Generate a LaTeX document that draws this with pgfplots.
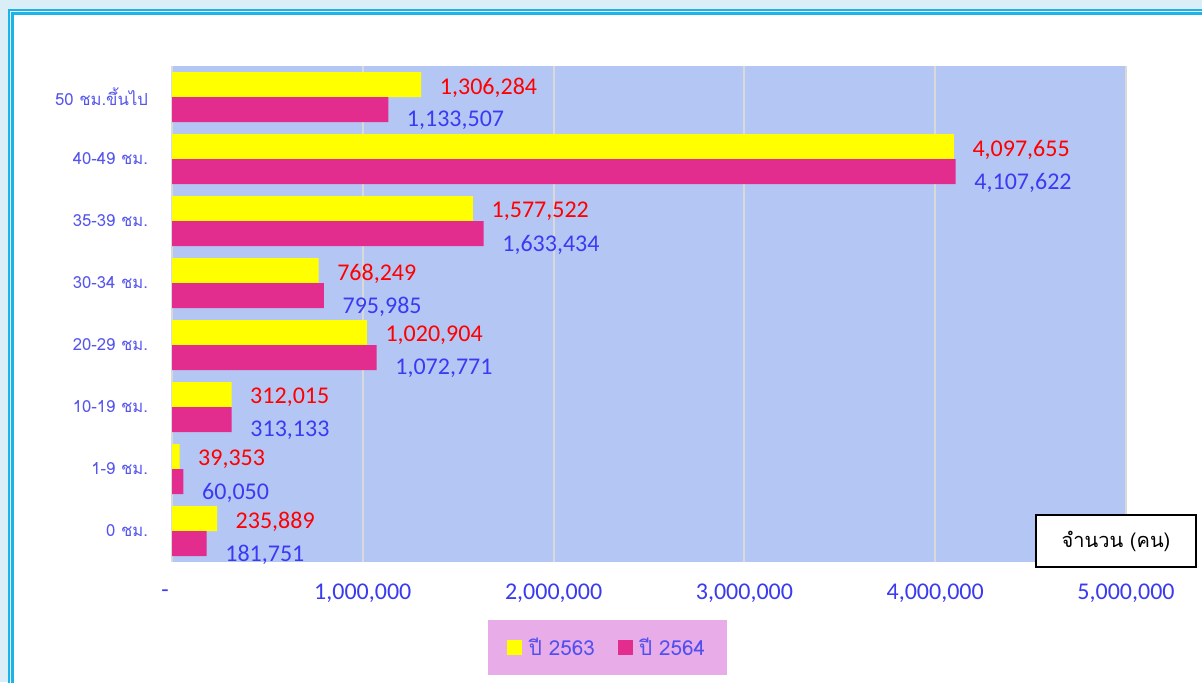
\documentclass[border=0pt]{standalone}
\usepackage{fontspec}
\setmainfont{Carlito}
\newfontfamily\thaifont[Script=Thai]{Loma}
\usepackage{pgfplots}
\usepackage{pgfplotstable}
\pgfplotsset{compat=1.18}
\definecolor{bgblue}{HTML}{DAEEF8}
\definecolor{frameline}{HTML}{1BB3E8}
\definecolor{framegap}{HTML}{E6F6FC}
\definecolor{plotbg}{HTML}{B4C7F4}
\definecolor{gridgray}{HTML}{D9D9D9}
\definecolor{barYellow}{HTML}{FFFF00}
\definecolor{barMagenta}{HTML}{E32D8E}
\definecolor{labRed}{HTML}{FF0000}
\definecolor{labBlue}{HTML}{3A3AF5}
\definecolor{tickblue}{HTML}{3A3AF0}
\definecolor{catblue}{HTML}{5555EE}
\definecolor{legendpink}{HTML}{E8ACE8}
\definecolor{legendblue}{HTML}{5050F0}

\pgfplotstableread{
c v1 l1 v2 l2
0 235889 235,889 181751 181,751
1 39353 39,353 60050 60,050
2 312015 312,015 313133 313,133
3 1020904 1,020,904 1072771 1,072,771
4 768249 768,249 795985 795,985
5 1577522 1,577,522 1633434 1,633,434
6 4097655 4,097,655 4107622 4,107,622
7 1306284 1,306,284 1133507 1,133,507
}\datatable

\begin{document}
\begin{tikzpicture}
\useasboundingbox (0,0) rectangle (901.5pt,-511.5pt);
\fill[bgblue] (0,0) rectangle (901.5pt,-511.5pt);
\fill[frameline] (6pt,-6.75pt) rectangle (920pt,-530pt);
\fill[framegap] (7.5pt,-8.25pt) rectangle (920pt,-530pt);
\fill[frameline] (8.4pt,-9.15pt) rectangle (920pt,-530pt);
\fill[white] (10.2pt,-11pt) rectangle (920pt,-530pt);
\begin{axis}[
  at={(129pt,-421.5pt)}, anchor=south west,
  scale only axis, width=715.5pt, height=372pt,
  xbar, bar width=18.75pt,
  xmin=0, xmax=5000000, ymin=-0.5, ymax=7.5,
  axis background/.style={fill=plotbg},
  axis line style={draw=none},
  major tick length=0pt,
  xmajorgrids, grid style={gridgray, line width=1.5pt},
  xtick={0,1000000,2000000,3000000,4000000,5000000},
  xticklabels={{\makebox[0pt][r]{-\hspace{2.5pt}}},{1,000,000},{2,000,000},{3,000,000},{4,000,000},{5,000,000}},
  scaled x ticks=false,
  xticklabel style={font=\fontsize{18}{21}\selectfont, text=tickblue, anchor=center, yshift=-23.5pt},
  ytick={0,1,2,3,4,5,6,7},
  yticklabels={{0 ชม.},{1-9 ชม.},{10-19 ชม.},{20-29 ชม.},{30-34 ชม.},{35-39 ชม.},{40-49 ชม.},{50 ชม.ขึ้นไป}},
  yticklabel style={font=\thaifont\fontsize{12.5}{14}\selectfont, text=catblue, anchor=east, xshift=-14.5pt},
  point meta=explicit symbolic,
  nodes near coords,
  every node near coord/.append style={font=\fontsize{18}{21}\selectfont, anchor=west, xshift=10.5pt},
  legend style={at={(0.4565,-0.1724)}, anchor=center, fill=legendpink, draw=none,
    font=\thaifont\fontsize{15.5}{17}\selectfont, text=legendblue,
    inner xsep=14.5pt, inner ysep=11.5pt,
    /tikz/every odd column/.append style={column sep=3pt},
    /tikz/every even column/.append style={column sep=15pt}},
  legend columns=2,
  legend image code/.code={\draw[#1,draw=none] (0pt,-5.625pt) rectangle (11.25pt,5.625pt);},
]
\addplot[fill=barYellow, draw=none, bar shift=9.375pt,
  every node near coord/.append style={text=labRed, yshift=-2.2pt}]
  table[x=v1, y=c, meta=l1] {\datatable};
\addlegendentry{ปี 2563}
\addplot[fill=barMagenta, draw=none, bar shift=-9.375pt,
  every node near coord/.append style={text=labBlue, yshift=-8.3pt}]
  table[x=v2, y=c, meta=l2] {\datatable};
\addlegendentry{ปี 2564}
\end{axis}
\node[draw=black, line width=1.5pt, fill=white, minimum width=120pt, minimum height=39pt,
  font=\thaifont\fontsize{15}{17}\selectfont, text=black] at (837pt,-405.75pt) {จำนวน (คน)};
\end{tikzpicture}
\end{document}
